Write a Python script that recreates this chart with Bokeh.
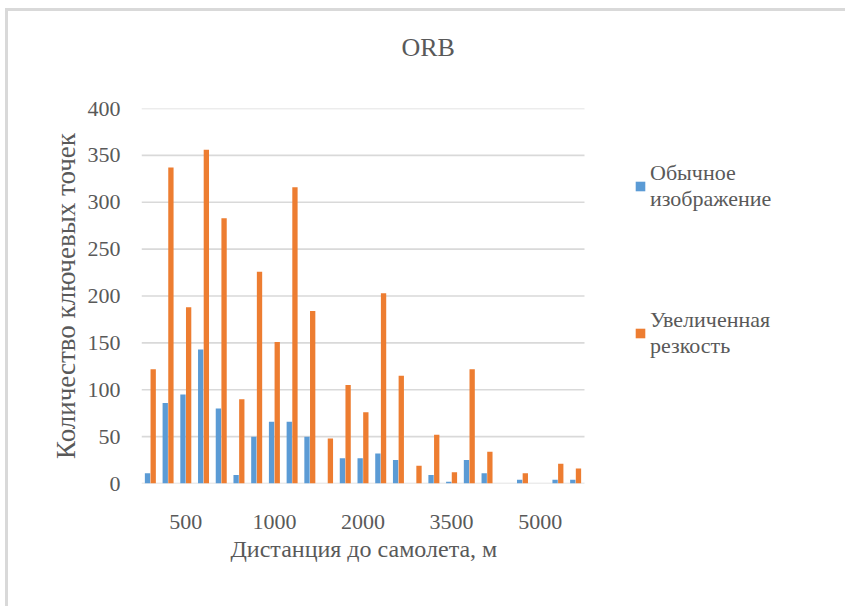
from bokeh.plotting import figure
from bokeh.models import ColumnDataSource, Legend, LegendItem, FixedTicker, Range1d, Title
from bokeh.transform import dodge
from bokeh.embed import file_html
from bokeh.resources import INLINE

# ---- data ----
categories = list(range(1, 26))
normal = [11, 86, 95, 143, 80, 9, 50, 66, 66, 50, 0, 27, 27, 32, 25, 0, 9, 2, 25, 11, 0, 4, 0, 4, 4]
sharpened = [122, 337, 188, 356, 283, 90, 226, 151, 316, 184, 48, 105, 76, 203, 115, 19, 52, 12, 122, 34, 0, 11, 0, 21, 16]
tick_positions = [3, 8, 13, 18, 23]
tick_labels = ["500", "1000", "2000", "3500", "5000"]
y_ticks = [0, 50, 100, 150, 200, 250, 300, 350, 400]
series_names = ["Обычное\nизображение", "Увеличенная\nрезкость"]
colors = ["#5B9BD5", "#ED7D31"]
chart_title = "ORB"
x_title = "Дистанция до самолета, м"
y_title = "Количество ключевых точек"

FONT = "Liberation Serif"
GRAY = "#595959"

# layout: the plotting frame is widened so the legend (drawn inside it) stays visible;
# the categories occupy the left 443 px of the 699 px frame.
W, H = 840, 598
LEFT, RIGHT, TOP, BOTTOM = 133, 8, 97, 126
frame_w = W - LEFT - RIGHT
cat_w = 443
x0 = min(categories) - 0.5
x1 = max(categories) + 0.5
x_end = x0 + (x1 - x0) * frame_w / cat_w

src = ColumnDataSource(dict(x=categories, normal=normal, sharpened=sharpened))
grid_src = ColumnDataSource(dict(y=y_ticks, x0=[x0] * len(y_ticks), x1=[x1] * len(y_ticks)))

p = figure(width=W, height=H, output_backend="svg", toolbar_location=None,
           x_range=Range1d(x0, x_end), y_range=Range1d(0, 400),
           min_border_left=LEFT, min_border_right=RIGHT, min_border_top=TOP, min_border_bottom=BOTTOM)
p.styles = {"margin-left": "5px", "margin-top": "8px",
            "border-top": "3px solid #D9D9D9", "border-left": "3px solid #D9D9D9"}

p.segment(x0="x0", x1="x1", y0="y", y1="y", source=grid_src, line_color="#D9D9D9", line_width=1.6)

r1 = p.vbar(x=dodge("x", -0.16, range=p.x_range), top="normal", width=0.3, source=src,
            fill_color=colors[0], line_color=None)
r2 = p.vbar(x=dodge("x", 0.16, range=p.x_range), top="sharpened", width=0.3, source=src,
            fill_color=colors[1], line_color=None)

# spacer (closest to the frame) then the visible title above it
spacer = Title(text=" ", text_font=FONT, text_font_size="26px", standoff=16)
p.add_layout(spacer, "above")
title = Title(text=chart_title, align="left", offset=260, text_font=FONT,
              text_font_size="26px", text_font_style="normal", text_color=GRAY, standoff=0)
p.add_layout(title, "above")

p.outline_line_color = None
p.background_fill_color = "white"
p.border_fill_color = "white"

p.xgrid.grid_line_color = None
p.ygrid.grid_line_color = None
p.yaxis.ticker = FixedTicker(ticks=y_ticks)
p.xaxis.ticker = FixedTicker(ticks=tick_positions)
p.xaxis.major_label_overrides = {t: l for t, l in zip(tick_positions, tick_labels)}

for ax in (p.xaxis[0], p.yaxis[0]):
    ax.axis_line_color = None
    ax.major_tick_line_color = None
    ax.minor_tick_line_color = None
    ax.major_label_text_font = FONT
    ax.major_label_text_font_size = "22px"
    ax.major_label_text_color = GRAY
    ax.axis_label_text_font = FONT
    ax.axis_label_text_font_style = "normal"
    ax.axis_label_text_color = GRAY

p.yaxis.axis_label = y_title
p.yaxis.axis_label_text_font_size = "27px"
p.xaxis.major_label_standoff = 25
p.yaxis.major_label_standoff = 15
p.yaxis.axis_label_standoff = 4

xlabel = Title(text=x_title, align="left", offset=89,
               text_font=FONT, text_font_size="24px", text_font_style="normal",
               text_color=GRAY, standoff=4)
p.add_layout(xlabel, "below")

legend = Legend(items=[LegendItem(label=series_names[0], renderers=[r1]),
                       LegendItem(label=series_names[1], renderers=[r2])])
legend.label_text_font = FONT
legend.label_text_font_size = "22px"
legend.label_text_line_height = 1.5
legend.label_text_color = GRAY
legend.glyph_width = 12
legend.glyph_height = 12
legend.spacing = 95
legend.label_standoff = 4
legend.border_line_color = None
legend.background_fill_alpha = 0
legend.padding = 0
legend.margin = 0
legend.location = (493, 124)
p.add_layout(legend, "center")

open("out.html", "w").write(file_html(p, INLINE))
